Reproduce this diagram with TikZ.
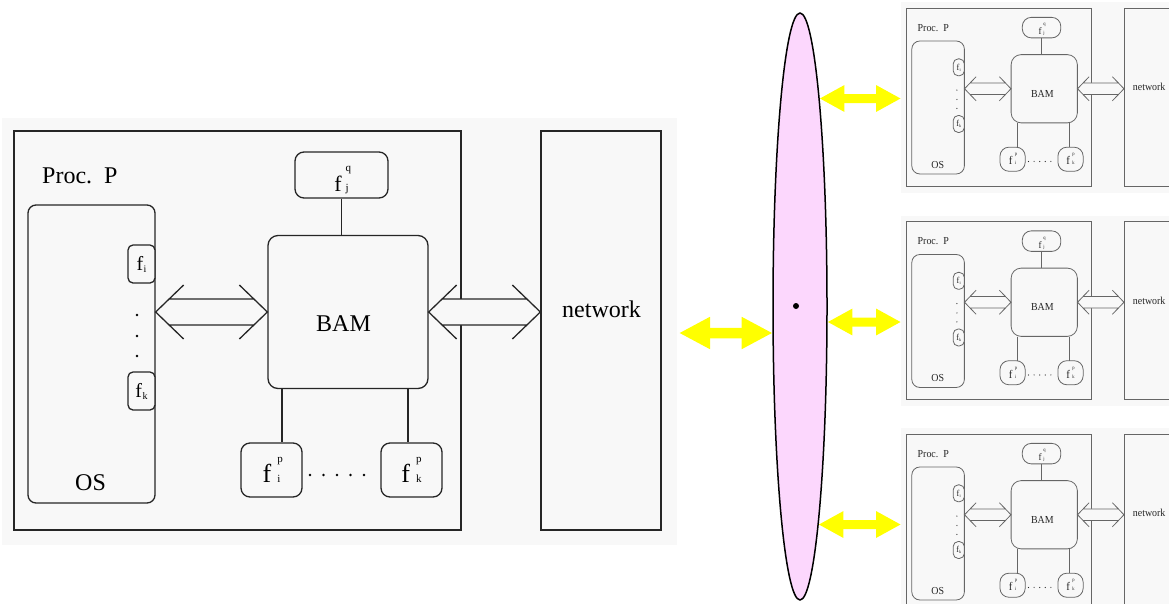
\documentclass[tikz,border=0pt]{standalone}
\usepackage{fontspec}
\setmainfont{Liberation Serif}
\usetikzlibrary{shapes.geometric,arrows.meta,calc,intersections}

\definecolor{panel}{HTML}{F8F8F8}
\definecolor{lens}{HTML}{FCD7FD}
\definecolor{beam}{HTML}{FFFF00}
\colorlet{ink}{black!85}
\colorlet{txt}{black}
\def\lw{1.3pt}

% f with a single subscript
\newcommand\fsub[1]{f\kern0.5pt\raisebox{-2.5pt}{\fontsize{10}{10}\selectfont #1}}
% f with a stacked superscript and subscript: #1 gap, #2 sup, #3 sub
\newcommand\fpair[3]{f\kern#1\rlap{\raisebox{20pt}{\fontsize{11}{11}\selectfont #2}}{\fontsize{11}{11}\selectfont #3}}

\tikzset{
  box/.style={draw=ink, line width=\lw, fill=panel, inner sep=0pt},
  ln/.style={draw=ink, line width=\lw},
  lbl/.style={inner sep=0pt, anchor=base west, text=txt, font=\fontsize{24}{24}\selectfont},
  ftxt/.style={text=txt},
  dotmark/.style={circle, fill=txt, inner sep=0pt, minimum size=2.8pt},
  beamL/.style={draw=beam, line width=10.5pt,
    {Triangle[length=31pt,width=30pt]}-{Triangle[length=31pt,width=30pt]}},
  beamR/.style={draw=beam, line width=9pt,
    {Triangle[length=25pt,width=25pt]}-{Triangle[length=25pt,width=25pt]}},
}

% open double arrow between two named tips (#1 left, #2 right)
\newcommand\hollow[2]{%
  \path (#1) ++(13.5,-13) coordinate (#1-u) (#1) ++(13.5,13) coordinate (#1-d)
        (#1) ++(28,-27) coordinate (#1-uw) (#1) ++(28,27) coordinate (#1-dw)
        (#2) ++(-13.5,-13) coordinate (#2-u) (#2) ++(-13.5,13) coordinate (#2-d)
        (#2) ++(-28,-27) coordinate (#2-uw) (#2) ++(-28,27) coordinate (#2-dw);
  \fill[panel] (#1) -- (#1-u) -- (#2-u) -- (#2) -- (#2-d) -- (#1-d) -- cycle;
  \draw[ln] (#1-uw) -- (#1) -- (#1-dw) (#2-uw) -- (#2) -- (#2-dw)
            (#1-u) -- (#2-u) (#1-d) -- (#2-d);
}

% one processor with its BAM and the network, origin at the top left of the processor box
\newcommand\procpanel{%
  \node[box, draw=none, minimum width=675pt, minimum height=427pt] (bg) at (325.5,200.5) {};
  \node[box, minimum width=447pt, minimum height=399pt] (outer) at (223.5,199.5) {};
  \node[box, minimum width=120pt, minimum height=399pt] (net) at (587,199.5) {};
  \node[box, rounded corners=8pt, minimum width=127pt, minimum height=298pt] (os) at (77.5,223) {};
  \node[box, rounded corners=5pt, minimum width=27pt, minimum height=38pt, ftxt,
        font=\fontsize{20}{20}\selectfont, text height=12pt, text depth=0pt] (fi) at (127.5,133) {\fsub{i}};
  \node[box, rounded corners=5pt, minimum width=27pt, minimum height=38pt, ftxt,
        font=\fontsize{20}{20}\selectfont, text height=12pt, text depth=0pt] (fk) at (127.5,260) {\fsub{k}};
  \node[box, rounded corners=10pt, minimum width=160pt, minimum height=153pt] (bam) at (334,181) {};
  \node[box, rounded corners=9pt, minimum width=93pt, minimum height=46pt, ftxt,
        font=\fontsize{22}{22}\selectfont, text height=32pt, text depth=0pt] (fq) at (327.5,44) {\fpair{4pt}{q}{j}};
  \node[box, rounded corners=9pt, minimum width=61pt, minimum height=54pt, ftxt,
        font=\fontsize{26}{26}\selectfont, text height=24pt, text depth=0pt] (fpa) at (257.5,339) {\fpair{6pt}{p}{i}};
  \node[box, rounded corners=9pt, minimum width=61pt, minimum height=54pt, ftxt,
        font=\fontsize{26}{26}\selectfont, text height=24pt, text depth=0pt] (fpb) at (397.5,339) {\fpair{6pt}{p}{k}};
  % links from the BAM to its files
  \coordinate (ta) at (268,0);
  \coordinate (tb) at (394,0);
  \draw[ln] (fq.south) -- (fq.south |- bam.north);
  \draw[ln] (ta |- bam.south) -- (ta |- fpa.north);
  \draw[ln] (tb |- bam.south) -- (tb |- fpb.north);
  % OS <-> BAM <-> network
  \coordinate (la) at (os.east |- bam.west);
  \coordinate (lb) at (bam.west);
  \coordinate (ra) at (bam.east);
  \coordinate (rb) at (net.west |- bam.east);
  \hollow{la}{lb}
  \hollow{ra}{rb}
  % ellipsis marks
  \foreach \k/\yy in {1/184,2/205,3/225}{\node[dotmark] (vd\k) at (123,\yy) {};}
  \foreach \k in {0,...,4}{\node[dotmark] (hd\k) at (296+13.5*\k,344) {};}
  % labels
  \node[lbl] (proclbl) at (28,52) {Proc.\ \ P};
  \node[lbl] (bamlbl) at (302,200) {BAM};
  \node[lbl] (netlbl) at (548,186) {network};
  \node[lbl] (oslbl) at (61,359) {OS};
}

\begin{document}
\begin{tikzpicture}[x=1pt, y=-1pt]
\useasboundingbox (0,0) rectangle (1169,603);
\clip (0,0) rectangle (1169,603);
\fill[white] (0,0) rectangle (1169,603);

% the detailed processor
\begin{scope}[shift={(14,131)}, name prefix=b-]
  \procpanel
\end{scope}

% three reduced copies
\begin{scope}[shift={(906,8)}, xscale=0.4139, yscale=0.4461, transform shape, name prefix=s1-]
  \def\lw{0.8pt}\colorlet{ink}{black!60}\colorlet{txt}{black!85}
  \procpanel
\end{scope}
\begin{scope}[shift={(906,221.5)}, xscale=0.4139, yscale=0.4461, transform shape, name prefix=s2-]
  \def\lw{0.8pt}\colorlet{ink}{black!60}\colorlet{txt}{black!85}
  \procpanel
\end{scope}
\begin{scope}[shift={(906,434)}, xscale=0.4139, yscale=0.4461, transform shape, name prefix=s3-]
  \def\lw{0.8pt}\colorlet{ink}{black!60}\colorlet{txt}{black!85}
  \procpanel
\end{scope}

% the interconnect
\node[ellipse, draw=black, line width=1.5pt, fill=lens, minimum width=54pt,
      minimum height=587pt, inner sep=0pt] (lensnode) at (800,306.5) {};
\node[circle, fill=black, inner sep=0pt, minimum size=6pt] (hub) at (796,306) {};
\path[name path=lensrim] (lensnode.center) ellipse [x radius=27.5pt, y radius=294pt];

\coordinate (w0) at (679,333);
\coordinate (t1) at (901,98.5);
\coordinate (t2) at (901,322);
\coordinate (t3) at (901,524.5);
\path[name path=h0] (w0) -- (lensnode.center |- w0);
\path[name path=h1] (t1) -- (lensnode.center |- t1);
\path[name path=h2] (t2) -- (lensnode.center |- t2);
\path[name path=h3] (t3) -- (lensnode.center |- t3);
\path[name intersections={of=lensrim and h0, by=e0}];
\path[name intersections={of=lensrim and h1, by=e1}];
\path[name intersections={of=lensrim and h2, by=e2}];
\path[name intersections={of=lensrim and h3, by=e3}];
\draw[beamL] (w0) -- (e0);
\draw[beamR] (e1) -- (t1);
\draw[beamR] (e2) -- (t2);
\draw[beamR] (e3) -- (t3);
\end{tikzpicture}
\end{document}
